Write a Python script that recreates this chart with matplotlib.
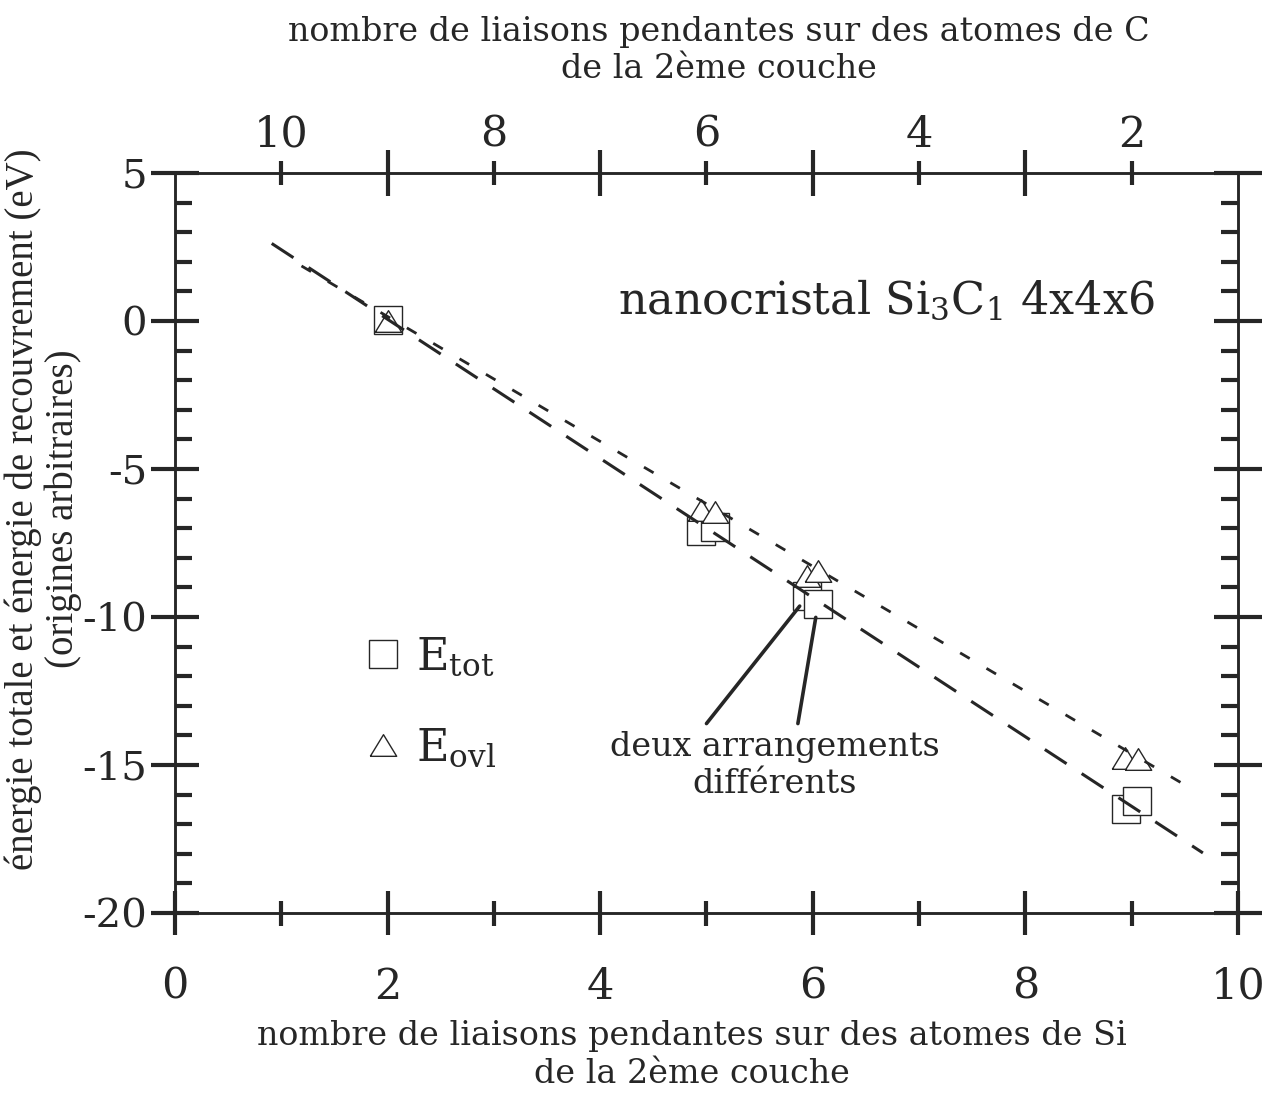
import matplotlib
matplotlib.use("Agg")
import matplotlib.pyplot as plt
from matplotlib.lines import Line2D

INK = "#262626"

plt.rcParams.update({
    "font.family": "DejaVu Serif",
    "mathtext.fontset": "dejavuserif",
    "text.color": INK,
    "axes.edgecolor": INK,
    "xtick.color": INK,
    "ytick.color": INK,
})

# Si dangling bonds (bottom axis) and energies
si_tot = [2.0, 4.95, 5.08, 5.95, 6.05, 8.95, 9.05]
e_tot = [0.05, -7.1, -6.95, -9.3, -9.55, -16.5, -16.2]
si_ovl = [2.0, 4.95, 5.08, 5.95, 6.05, 8.94, 9.06]
e_ovl = [0.0, -6.4, -6.45, -8.6, -8.45, -14.75, -14.8]

# fitted straight lines (end points)
fit_tot_x = [0.91, 9.67]
fit_tot_y = [2.62, -17.97]
fit_ovl_x = [1.19, 9.58]
fit_ovl_y = [1.86, -15.84]

# top axis: C dangling bonds = 11 - Si
c_tick_pos = [1, 3, 5, 7, 9]
c_tick_labels = ["10", "8", "6", "4", "2"]
c_minor_pos = [2, 4, 6, 8]

TRI = [(-1, -0.82), (1, -0.82), (0, 0.82), (-1, -0.82)]


def main() -> None:
    fig = plt.figure(figsize=(12.81, 10.95), dpi=100)
    ax = fig.add_axes([0.1366, 0.1662, 0.8298, 0.6758])
    ax.set_xlim(0, 10)
    ax.set_ylim(-20, 5)

    # markers: squares below, triangles above, fits on top
    ax.plot(si_tot, e_tot, linestyle="none", marker="s", markersize=19.5,
            markerfacecolor="white", markeredgecolor=INK,
            markeredgewidth=1.0, zorder=3)
    ax.plot(si_ovl, e_ovl, linestyle="none", marker=TRI, markersize=19,
            markerfacecolor="white", markeredgecolor=INK,
            markeredgewidth=1.0, zorder=4)
    ax.plot(fit_tot_x, fit_tot_y, color=INK, lw=2.2, dashes=(8.5, 5.9),
            zorder=5)
    ax.plot(fit_ovl_x, fit_ovl_y, color=INK, lw=2.0, dashes=(4.0, 7.0),
            zorder=5)

    # ticks
    ax.set_xticks([0, 2, 4, 6, 8, 10])
    ax.set_xticks([1, 3, 5, 7, 9], minor=True)
    ax.set_yticks([5, 0, -5, -10, -15, -20])
    ax.set_yticks(range(-20, 6), minor=True)
    ax.set_yticklabels(["5", "0", "-5", "-10", "-15", "-20"])
    ax.tick_params(axis="x", which="major", direction="inout", length=32,
                   width=3, labelsize=31, pad=22, top=False)
    ax.tick_params(axis="x", which="minor", direction="inout", length=18,
                   width=3, top=False)
    ax.tick_params(axis="y", which="major", direction="inout", length=34,
                   width=3, labelsize=29, pad=3, right=True)
    ax.tick_params(axis="y", which="minor", direction="in", length=12,
                   width=3, right=True)
    for sp in ax.spines.values():
        sp.set_linewidth(1.8)

    top = ax.twiny()
    top.set_xlim(0, 10)
    top.set_xticks(c_tick_pos)
    top.set_xticklabels(c_tick_labels)
    top.set_xticks(c_minor_pos, minor=True)
    top.tick_params(axis="x", which="major", direction="inout", length=17,
                    width=3, labelsize=31, pad=4)
    top.tick_params(axis="x", which="minor", direction="inout", length=33,
                    width=3)
    for sp in top.spines.values():
        sp.set_linewidth(1.8)

    # axis titles
    fig.text(0.540, 0.0365,
             "nombre de liaisons pendantes sur des atomes de Si\n"
             "de la 2ème couche",
             ha="center", va="center", fontsize=24, linespacing=1.25)
    fig.text(0.561, 0.954,
             "nombre de liaisons pendantes sur des atomes de C\n"
             "de la 2ème couche",
             ha="center", va="center", fontsize=24, linespacing=1.2)
    fig.text(0.034, 0.535,
             "énergie totale et énergie de recouvrement (eV)\n"
             "(origines arbitraires)",
             ha="center", va="center", rotation=90, fontsize=28,
             linespacing=1.08, multialignment="center",
             family="Liberation Serif")

    ax.text(6.69, 0.7, r"nanocristal $\mathrm{Si_3C_1}$ 4x4x6",
            ha="center", va="center", fontsize=32)

    # annotation for the two arrangements at 6 Si dangling bonds
    ax.text(5.64, -15.0, "deux arrangements\ndifférents",
            ha="center", va="center", fontsize=24, linespacing=1.2)
    ax.annotate("", xy=(si_tot[3], e_tot[3]), xytext=(5.0, -13.6),
                arrowprops=dict(arrowstyle="-", color=INK, lw=2.6,
                                shrinkA=0, shrinkB=9))
    ax.annotate("", xy=(si_tot[4], e_tot[4]), xytext=(5.86, -13.6),
                arrowprops=dict(arrowstyle="-", color=INK, lw=2.6,
                                shrinkA=0, shrinkB=10))

    handles = [
        Line2D([0], [0], linestyle="none", marker="s", markersize=19.5,
               markerfacecolor="white", markeredgecolor=INK,
               markeredgewidth=1.0, label=r"$\mathrm{E_{tot}}$"),
        Line2D([0], [0], linestyle="none", marker=TRI, markersize=19,
               markerfacecolor="white", markeredgecolor=INK,
               markeredgewidth=1.0, label=r"$\mathrm{E_{ovl}}$"),
    ]
    ax.legend(handles=handles, loc="upper left",
              bbox_to_anchor=(0.158, 0.405), frameon=False, fontsize=32,
              handlelength=0.8, handletextpad=0.35, labelspacing=1.08,
              borderpad=0.0)

    fig.savefig("out.png", dpi=100)


if __name__ == "__main__":
    main()
